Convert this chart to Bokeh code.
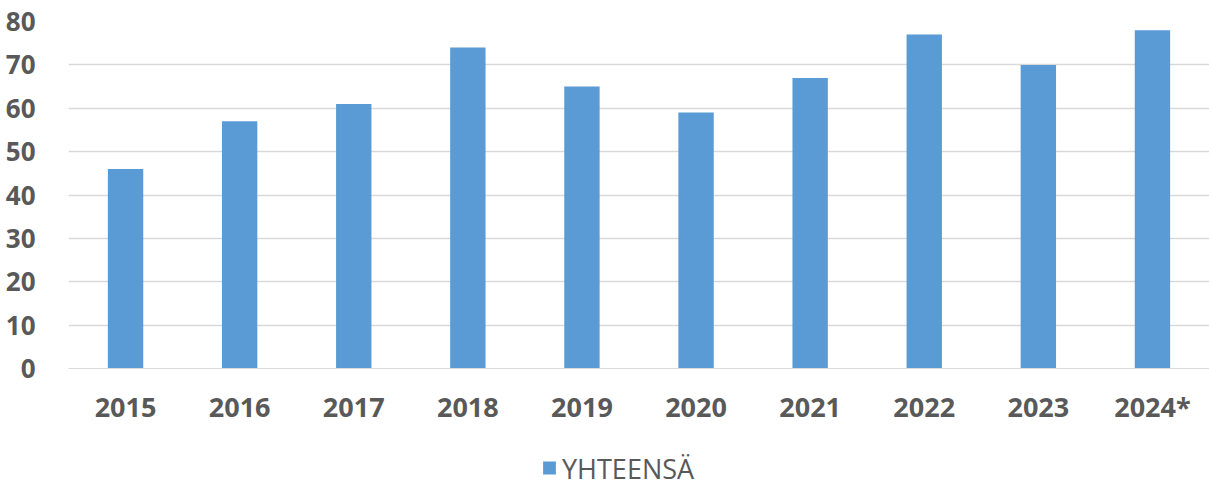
from bokeh.plotting import figure
from bokeh.layouts import column
from bokeh.models import ColumnDataSource, Legend, LegendItem, FixedTicker, Range1d
from bokeh.embed import file_html
from bokeh.resources import INLINE

years = ["2015", "2016", "2017", "2018", "2019", "2020", "2021", "2022", "2023", "2024*"]
totals = [46, 57, 61, 74, 65, 59, 67, 77, 70, 78]
y_ticks = [0, 10, 20, 30, 40, 50, 60, 70, 80]
series_name = "YHTEENSÄ"
bar_color = "#5b9bd5"
text_color = "#595959"

src = ColumnDataSource(data=dict(year=years, total=totals))

p = figure(x_range=years, y_range=Range1d(0, 80), width=1209, height=450,
           output_backend="svg", toolbar_location=None,
           min_border_left=68, min_border_right=0, min_border_top=21, min_border_bottom=82)
p.outline_line_color = None
p.background_fill_color = "white"
p.border_fill_color = "white"

p.vbar(x="year", top="total", width=0.31, source=src, color=bar_color, line_color=None)

p.x_range.range_padding = 0

p.yaxis.ticker = FixedTicker(ticks=y_ticks)
p.yaxis.axis_line_color = None
p.yaxis.major_tick_line_color = None
p.yaxis.minor_tick_line_color = None
p.yaxis.major_label_standoff = 27
p.yaxis.major_label_text_font = "Open Sans"
p.yaxis.major_label_text_font_style = "bold"
p.yaxis.major_label_text_font_size = "26px"
p.yaxis.major_label_text_color = text_color

p.xaxis.axis_line_color = "#d9d9d9"
p.xaxis.major_tick_line_color = None
p.xaxis.minor_tick_line_color = None
p.xaxis.major_label_standoff = 13
p.xaxis.major_label_text_font = "Open Sans"
p.xaxis.major_label_text_font_style = "bold"
p.xaxis.major_label_text_font_size = "27px"
p.xaxis.major_label_text_color = text_color

p.xgrid.grid_line_color = None
p.ygrid.grid_line_color = "#d9d9d9"
p.ygrid.grid_line_width = 1.5

# legend strip below the chart (frame edges match the main chart's)
p2 = figure(width=1209, height=35, output_backend="svg", toolbar_location=None,
            x_range=Range1d(0, 1), y_range=Range1d(0, 1),
            x_axis_type=None, y_axis_type=None,
            min_border_left=68, min_border_right=0, min_border_top=0, min_border_bottom=0)
p2.outline_line_color = None
p2.xgrid.grid_line_color = None
p2.ygrid.grid_line_color = None
legend_src = ColumnDataSource(data=dict(x=[0.5], top=[float("nan")]))
lr = p2.vbar(x="x", top="top", width=0.31, source=legend_src,
             fill_color=bar_color, line_color=None)

legend = Legend(items=[LegendItem(label=series_name, renderers=[lr])],
                orientation="horizontal", location="center_left",
                label_text_font="Open Sans", label_text_font_size="27px",
                label_text_color=text_color, glyph_width=16, glyph_height=16,
                label_standoff=5, border_line_color=None, background_fill_alpha=0,
                padding=0, margin=473)
p2.add_layout(legend, "center")

layout = column(p, p2, spacing=0)

open("out.html", "w").write(file_html(layout, INLINE))
